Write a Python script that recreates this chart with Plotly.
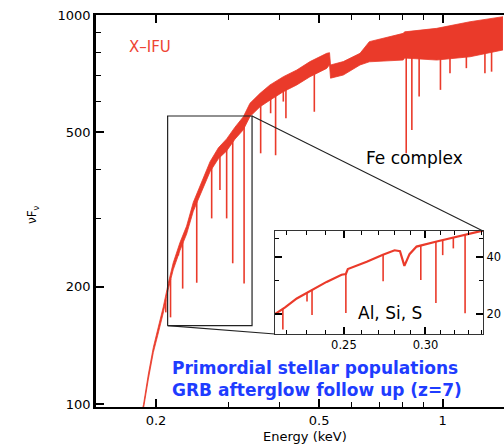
import numpy as np
import plotly.graph_objects as go

# ---------------- data ----------------
# main spectrum: energy (keV) and lower / upper envelope of the noisy nuFnu band
E_main = [0.1820, 0.1864, 0.1916, 0.1970, 0.2026, 0.2083, 0.2143, 0.2203, 0.2288,
          0.2375, 0.2466, 0.2585, 0.2709, 0.2839, 0.2974, 0.3116, 0.3266, 0.3390,
          0.3588, 0.3793, 0.4088, 0.4409, 0.4750, 0.5216, 0.5300, 0.5330, 0.5726,
          0.6290, 0.6627, 0.8018, 0.8078, 0.9675, 1.1669, 1.4036]
F_low = [87.3, 97.2, 115.9, 135.6, 152.2, 171.3, 197.4, 221.3, 248.0,
         273.4, 313.0, 351.3, 395.5, 427.0, 447.4, 479.5, 506.8, 548.0,
         581.0, 604.0, 635.0, 661.0, 694.0, 729.0, 745.0, 688.0, 701.0,
         744.0, 758.0, 766.0, 775.0, 766.0, 781.0, 813.0]
F_high = [89.4, 99.6, 119.4, 139.7, 157.7, 177.5, 204.5, 230.6, 260.0,
          286.7, 330.0, 372.7, 419.6, 455.6, 480.3, 514.7, 547.4, 593.0,
          629.0, 661.0, 694.0, 722.0, 759.0, 797.0, 800.0, 744.0, 759.0,
          797.0, 854.0, 897.0, 905.0, 924.0, 961.0, 990.0]

# main spectrum absorption lines: energy and minimum flux
abs_E = [0.2113, 0.2170, 0.2268, 0.2323, 0.2514, 0.2734, 0.2864, 0.2974, 0.3077,
         0.3280, 0.3600, 0.3807, 0.3915, 0.4088, 0.4149, 0.4866, 0.8153, 0.8415,
         0.8766, 0.9881, 1.0425, 1.1429, 1.2685, 1.3167]
abs_F = [172, 167, 241, 198, 205, 300, 355, 300, 230,
         204, 441, 559, 436, 599, 543, 564, 441, 506,
         617, 642, 708, 730, 708, 715]

# inset spectrum (Al, Si, S region)
E_in = [0.2143, 0.2192, 0.2250, 0.2317, 0.2405, 0.2487, 0.2511, 0.2522, 0.2631,
        0.2728, 0.2800, 0.2834, 0.2862, 0.2895, 0.2941, 0.3076, 0.3217, 0.3338, 0.3412]
F_in = [20.0, 21.7, 24.2, 26.5, 29.6, 32.3, 32.6, 34.6, 37.8,
        41.2, 43.5, 43.0, 36.0, 41.5, 45.5, 48.4, 51.2, 54.0, 55.3]
abs_in_E = [0.2181, 0.2302, 0.2328, 0.2511, 0.2729, 0.2969, 0.3071, 0.3118, 0.3193, 0.3278]
abs_in_F = [16.6, 23.3, 19.8, 20.3, 29.8, 30.3, 22.9, 41.0, 44.5, 20.2]

# tick labels
x_ticks = [0.2, 0.5, 1]
x_ticktext = ["0.2", "0.5", "1"]
x_minor = [0.3, 0.4, 0.6, 0.7, 0.8, 0.9]
y_ticks = [100, 200, 500, 1000]
y_ticktext = ["100", "200", "500", "1000"]
y_minor = [300, 400, 600, 700, 800, 900]
xin_ticks = [0.25, 0.30]
xin_ticktext = ["0.25", "0.30"]
xin_minor = [0.22, 0.23, 0.24, 0.26, 0.27, 0.28, 0.29, 0.31, 0.32, 0.33, 0.34]
yin_ticks = [20, 40]
yin_ticktext = ["20", "40"]
yin_minor = [30, 50]

# zoom box (in main data units)
box_E = [0.2135, 0.343]
box_F = [159, 550]

# ---------------- layout geometry ----------------
W, H = 504, 447
ML, MR, MT, MB = 96, 0, 15, 40
XR = [np.log10(0.2) - 60 / 410, np.log10(0.2) + 348 / 410]
YR = [3 - 392 / 389, 3.0]
XR2 = [np.log10(0.2143), np.log10(0.3412)]
YR2 = [np.log10(15.7), np.log10(55.0)]
PW, PH = W - ML - MR, H - MT - MB
dom_x2 = [(275 - ML) / PW, (483 - ML) / PW]
dom_y2 = [(H - MB - 334) / PH, (H - MB - 231) / PH]

RED = "#ea3a2a"
FONT = "DejaVu Sans"

fig = go.Figure()

# main band
fig.add_trace(go.Scatter(x=E_main, y=F_low, mode="lines", line=dict(width=0.8, color=RED),
                         showlegend=False, hoverinfo="skip"))
fig.add_trace(go.Scatter(x=E_main, y=F_high, mode="lines", line=dict(width=0.8, color=RED),
                         fill="tonexty", fillcolor=RED, showlegend=False, hoverinfo="skip"))

# main absorption lines
lx, ly = [], []
logE = np.log10(E_main)
logL = np.log10(F_low)
for e, f in zip(abs_E, abs_F):
    top = 10 ** np.interp(np.log10(e), logE, logL) * 1.01
    lx += [e, e, None]
    ly += [top, f, None]
fig.add_trace(go.Scatter(x=lx, y=ly, mode="lines", line=dict(width=1.6, color=RED),
                         showlegend=False, hoverinfo="skip"))

# zoom box
fig.add_trace(go.Scatter(x=[box_E[0], box_E[1], box_E[1], box_E[0], box_E[0]],
                         y=[box_F[0], box_F[0], box_F[1], box_F[1], box_F[0]],
                         mode="lines", line=dict(width=1.2, color="#222"),
                         showlegend=False, hoverinfo="skip"))

# inset spectrum
fig.add_trace(go.Scatter(x=E_in, y=F_in, mode="lines", line=dict(width=2.2, color=RED),
                         xaxis="x2", yaxis="y2", showlegend=False, hoverinfo="skip"))
ix, iy = [], []
for e, f in zip(abs_in_E, abs_in_F):
    top = 10 ** np.interp(np.log10(e), np.log10(E_in), np.log10(F_in))
    ix += [e, e, None]
    iy += [top, f, None]
fig.add_trace(go.Scatter(x=ix, y=iy, mode="lines", line=dict(width=1.6, color=RED),
                         xaxis="x2", yaxis="y2", showlegend=False, hoverinfo="skip"))

# connector lines (paper coordinates from the axis mappings)
def main_to_paper(e, f):
    px = (np.log10(e) - XR[0]) / (XR[1] - XR[0])
    py = (np.log10(f) - YR[0]) / (YR[1] - YR[0])
    return px, py

p1 = main_to_paper(box_E[1], box_F[1])
p2 = main_to_paper(box_E[0], box_F[0])
shapes = [
    dict(type="line", xref="paper", yref="paper", x0=p1[0], y0=p1[1], x1=dom_x2[1], y1=dom_y2[1],
         line=dict(color="#222", width=1.1)),
    dict(type="line", xref="paper", yref="paper", x0=p2[0], y0=p2[1], x1=dom_x2[0], y1=dom_y2[0],
         line=dict(color="#222", width=1.1)),
]

tickfont = dict(family=FONT, size=13, color="black")
axis_common = dict(showgrid=False, zeroline=False, showline=True, linecolor="black",
                   ticks="inside", tickcolor="black", tickfont=tickfont)

fig.update_layout(
    width=W, height=H, margin=dict(l=ML, r=MR, t=MT, b=MB),
    paper_bgcolor="white", plot_bgcolor="white",
    font=dict(family=FONT, color="black"),
    showlegend=False,
    shapes=shapes,
    xaxis=dict(type="log", range=XR, domain=[0, 1], anchor="y", linewidth=2, mirror="ticks",
               tickvals=x_ticks, ticktext=x_ticktext, ticklen=8, tickwidth=1.6,
               minor=dict(tickvals=x_minor, ticklen=5, tickwidth=1.3, ticks="inside", tickcolor="black"),
               **axis_common),
    yaxis=dict(type="log", range=YR, domain=[0, 1], anchor="x", linewidth=2.5, mirror=False,
               tickvals=y_ticks, ticktext=y_ticktext, ticklen=8, tickwidth=1.6,
               minor=dict(tickvals=y_minor, ticklen=5, tickwidth=1.3, ticks="inside", tickcolor="black"),
               **axis_common),
    xaxis2=dict(type="log", range=XR2, domain=dom_x2, anchor="y2", linewidth=1.3, mirror="ticks",
                tickvals=xin_ticks, ticktext=xin_ticktext, ticklen=7, tickwidth=1.5,
                minor=dict(tickvals=xin_minor, ticklen=4, tickwidth=1.1, ticks="inside", tickcolor="black"),
                showgrid=False, zeroline=False, showline=True, linecolor="#333",
                ticks="inside", tickcolor="black", tickfont=dict(family=FONT, size=11.5, color="black")),
    yaxis2=dict(type="log", range=YR2, domain=dom_y2, anchor="x2", side="right", linewidth=1.3,
                mirror="ticks", tickvals=yin_ticks, ticktext=yin_ticktext, ticklen=7, tickwidth=1.5,
                minor=dict(tickvals=yin_minor, ticklen=4, tickwidth=1.1, ticks="inside", tickcolor="black"),
                showgrid=False, zeroline=False, showline=True, linecolor="#333",
                ticks="inside", tickcolor="black", tickfont=dict(family=FONT, size=11.5, color="black")),
)

def pxy(x, y):
    return (x - ML) / PW, (H - MB - y) / PH

annots = []
ax_, ay_ = pxy(150, 47)
annots.append(dict(text="X–IFU", x=ax_, y=ay_, font=dict(size=15, color="#ee4433", family=FONT)))
ax_, ay_ = pxy(414, 158)
annots.append(dict(text="Fe complex", x=ax_, y=ay_, font=dict(size=17, color="black", family=FONT)))
ax_, ay_ = pxy(390, 313)
annots.append(dict(text="Al, Si, S", x=ax_, y=ay_, font=dict(size=17, color="black", family=FONT)))
ax_, ay_ = pxy(315, 368)
annots.append(dict(text="<b>Primordial stellar populations</b>", x=ax_, y=ay_,
                   font=dict(size=17, color="#1e3cff", family=FONT)))
ax_, ay_ = pxy(317, 390)
annots.append(dict(text="<b>GRB afterglow follow up (z=7)</b>", x=ax_, y=ay_,
                   font=dict(size=17, color="#1e3cff", family=FONT)))
ax_, ay_ = pxy(305, 437)
annots.append(dict(text="Energy (keV)", x=ax_, y=ay_, font=dict(size=13, color="black", family=FONT)))
ax_, ay_ = pxy(33, 215)
annots.append(dict(text="νF<sub>ν</sub>", x=ax_, y=ay_, textangle=-90,
                   font=dict(size=12, color="black", family=FONT)))
for a in annots:
    a.update(xref="paper", yref="paper", showarrow=False, xanchor="center", yanchor="middle")
fig.update_layout(annotations=annots)

fig.write_html("out.html", config={"displayModeBar": False},
               post_script="document.body.style.margin='0px';document.body.style.overflow='hidden';")
